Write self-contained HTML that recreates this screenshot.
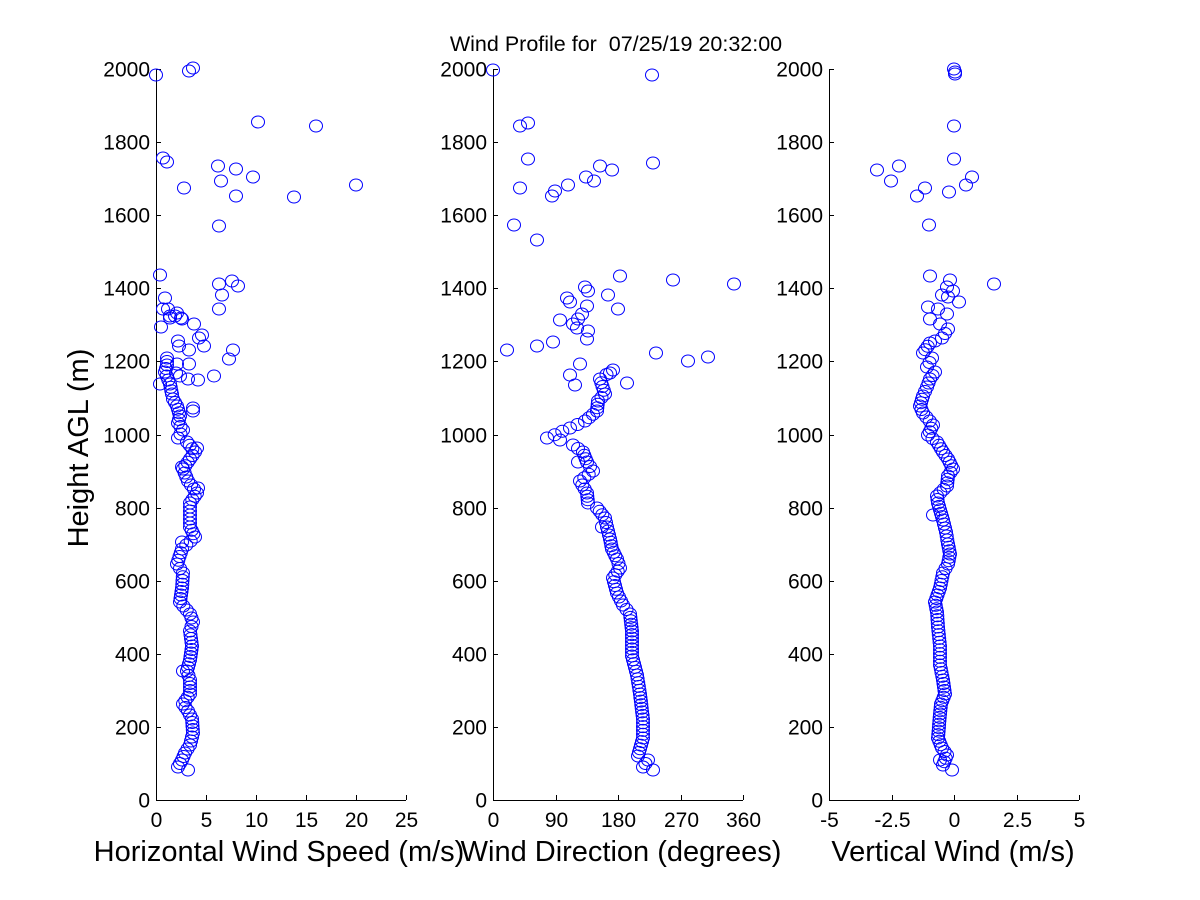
<!DOCTYPE html>
<html><head><meta charset="utf-8"><style>
html,body{margin:0;padding:0;background:#fff;}
svg{display:block;font-family:"Liberation Sans",sans-serif;}
</style></head><body>
<svg id="s" width="1200" height="900" xmlns="http://www.w3.org/2000/svg">
<rect width="1200" height="900" fill="#fff"/>
<text x="616" y="51" font-size="21.5" text-anchor="middle" fill="#000" style="white-space:pre">Wind Profile for  07/25/19 20:32:00</text>
<g id="axes" stroke="#000" stroke-width="1" fill="none"></g>
<g id="labels" font-size="21" fill="#000"></g>
<text x="0" y="0" font-size="29" text-anchor="middle" transform="translate(88,448) rotate(-90)">Height AGL (m)</text>
<text x="279" y="861" font-size="29" text-anchor="middle">Horizontal Wind Speed (m/s)</text>
<text x="621" y="861" font-size="29" text-anchor="middle">Wind Direction (degrees)</text>
<text x="953" y="861" font-size="29" text-anchor="middle">Vertical Wind (m/s)</text>
<g id="pts" stroke="#0000ff" stroke-width="1" fill="none"></g>
</svg>
<script>
var NS="http://www.w3.org/2000/svg";
function el(p,t,a,txt){var e=document.createElementNS(NS,t);for(var k in a)e.setAttribute(k,a[k]);if(txt!==undefined)e.textContent=txt;document.getElementById(p).appendChild(e);}
var panels=[{x0:156,xt:["0","5","10","15","20","25"],step:50},{x0:493,xt:["0","90","180","270","360"],step:62.5},{x0:829,xt:["-5","-2.5","0","2.5","5"],step:62.5}];
panels.forEach(function(p){
 el("axes","line",{x1:p.x0+.5,y1:69,x2:p.x0+.5,y2:800.5});
 el("axes","line",{x1:p.x0,y1:800.5,x2:p.x0+250,y2:800.5});
 for(var i=0;i<=10;i++){var y=Math.round(800-i*73.1)+.5;el("axes","line",{x1:p.x0,y1:y,x2:p.x0+5,y2:y});
  el("labels","text",{x:p.x0-6,y:y+7,"text-anchor":"end"},String(i*200));}
 p.xt.forEach(function(t,i){var x=Math.round(p.x0+i*p.step)+.5;el("axes","line",{x1:x,y1:800,x2:x,y2:795});
  el("labels","text",{x:x,y:827,"text-anchor":"middle"},t);});
});
function dense(a){var out=[];for(var i=0;i<a.length-1;i++){var p=a[i],q=a[i+1];var n=Math.max(1,Math.round(Math.abs(q[1]-p[1])/3.66));for(var j=0;j<n;j++)out.push([p[0]+(q[0]-p[0])*j/n,p[1]+(q[1]-p[1])*j/n]);}out.push(a[a.length-1]);return out;}
var L1=[[188,770],[178,767],[182,760],[185,753],[190,745],[193,733],[192,719],[188,711],[183,704],[190,694],[190,680],[187,671],[190,660],[192,646],[190,631],[193,622],[190,614],[180,602],[182,588],[183,573],[177,564],[182,549],[195,537],[190,527],[190,515],[190,503],[197,493],[188,481],[183,469],[190,459],[195,452],[187,442],[178,438],[183,430],[178,423],[180,416],[177,406],[173,399],[172,394],[170,384],[165,372],[167,365],[167,358]];
var U1=[[156,75],[189,71],[193,68],[258,122],[316,126],[163,158],[167,162],[218,166],[221,181],[236,169],[253,177],[294,197],[236,196],[356,185],[184,188],[219,226],[160,275],[165,298],[163,309],[170,318],[175,316],[181,318],[161,327],[199,338],[202,335],[204,346],[219,284],[222,295],[232,281],[238,286],[219,309],[233,350],[229,359],[214,376],[189,364],[176,373],[180,376],[198,380],[193,411],[193,408],[160,384],[177,364],[188,379],[189,350],[179,346],[178,341],[194,324],[182,319],[170,316],[177,313],[168,309],[182,542],[183,671],[198,488],[182,467],[197,448]];
var L2=[[653,770],[643,767],[648,760],[638,756],[643,738],[643,719],[640,694],[637,675],[632,656],[632,631],[630,614],[623,605],[617,593],[613,578],[620,568],[617,559],[612,549],[610,539],[607,527],[605,518],[597,508],[588,503],[587,493],[580,481],[593,471],[587,462],[583,452],[573,445],[560,440],[547,438],[570,428],[585,421],[597,411],[598,401],[605,394],[600,379],[613,370]];
var U2=[[493,70],[652,75],[520,126],[528,123],[528,159],[520,188],[600,166],[612,170],[653,163],[586,177],[594,181],[568,185],[555,191],[552,196],[514,225],[537,240],[620,276],[673,280],[734,284],[585,287],[588,291],[608,295],[567,298],[570,302],[618,309],[587,306],[582,314],[560,320],[578,319],[573,324],[577,328],[588,331],[587,339],[553,342],[537,346],[507,350],[656,353],[688,361],[708,357],[627,383],[570,375],[575,385],[580,364],[602,527],[578,462],[610,373]];
var L3=[[952,770],[943,765],[947,755],[942,748],[938,738],[940,714],[941,704],[945,694],[943,680],[940,665],[940,646],[938,627],[937,612],[935,602],[940,588],[943,573],[948,564],[950,554],[948,544],[946,532],[943,520],[938,503],[937,496],[947,486],[948,476],[953,469],[948,459],[943,452],[937,442],[928,435],[933,425],[923,413],[920,406],[923,396],[927,387],[930,379],[935,372],[927,367],[932,358],[923,353],[930,343],[935,341],[942,338],[948,329],[940,324],[930,319]];
var U3=[[954,69],[955,72],[955,74],[954,126],[954,159],[877,170],[899,166],[891,181],[925,188],[917,196],[949,192],[966,185],[972,177],[929,225],[940,760],[933,515],[928,307],[938,309],[947,314],[942,295],[948,297],[959,302],[953,291],[947,287],[950,280],[930,276],[994,284]];
[L1,L2,L3].forEach(function(a){dense(a).forEach(function(p){el("pts","ellipse",{cx:p[0].toFixed(1),cy:p[1].toFixed(1),rx:6.5,ry:6});});});
[U1,U2,U3].forEach(function(a){a.forEach(function(p){el("pts","ellipse",{cx:p[0],cy:p[1],rx:6.5,ry:6});});});
</script>
</body></html>
